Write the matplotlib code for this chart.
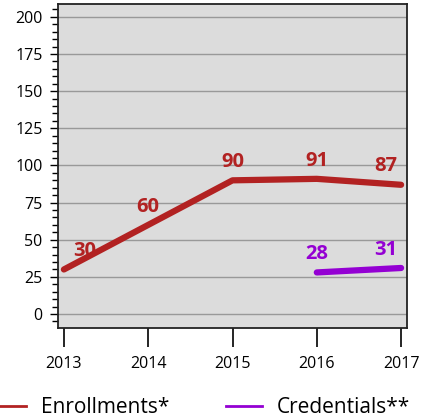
import matplotlib
matplotlib.use("Agg")
import matplotlib.pyplot as plt
from matplotlib.ticker import MultipleLocator
from matplotlib.lines import Line2D

years = [2013, 2014, 2015, 2016, 2017]
enroll_years = [2013, 2014, 2015, 2016, 2017]
enrollments = [30, 60, 90, 91, 87]
cred_years = [2016, 2017]
credentials = [28, 31]
series_names = ["Enrollments*", "Credentials**"]
yticks = [0, 25, 50, 75, 100, 125, 150, 175, 200]

RED = "#B22222"
PURPLE = "#9400D3"
FONT = ["Open Sans", "DejaVu Sans"]
plt.rcParams["font.family"] = FONT

fig = plt.figure(figsize=(4.28, 4.20), dpi=100)
ax = fig.add_axes([58/428, 1-328/420, (407-58)/428, (328-4)/420])
ax.set_facecolor("#DCDCDC")
ax.set_xlim(2012.93, 2017.07)
ax.set_ylim(-9.4, 208.7)

ax.set_yticks(yticks)
ax.yaxis.set_minor_locator(MultipleLocator(5))
ax.set_xticks(years)
ax.set_xticklabels([str(y) for y in years])
ax.grid(axis="y", which="major", color="#999999", linewidth=1.0)
ax.set_axisbelow(True)
ax.tick_params(axis="y", which="major", length=6, width=1, labelsize=11.5, pad=5, colors="black")
ax.tick_params(axis="y", which="minor", length=4, width=1)
ax.tick_params(axis="x", which="major", length=14, width=1.2, labelsize=11.5, pad=6)
for s in ax.spines.values():
    s.set_color("#222222")
    s.set_linewidth(1.3)

ax.plot(enroll_years, enrollments, color=RED, linewidth=4.5, solid_capstyle="round", solid_joinstyle="round", zorder=3)
ax.plot(cred_years, credentials, color=PURPLE, linewidth=4.5, solid_capstyle="round", solid_joinstyle="round", zorder=3)

def label(xs, vs, color):
    n = len(xs)
    for i, (x, v) in enumerate(zip(xs, vs)):
        if i == 0 and n > 2:
            ha, dx = "left", 7
        elif i == n - 1:
            ha, dx = "right", -3
        else:
            ha, dx = "center", 0
        ax.annotate(str(v), (x, v), xytext=(dx, 6), textcoords="offset points",
                    ha=ha, va="bottom", color=color, fontsize=14.5, fontweight="bold",
                    clip_on=False, zorder=4)

label(enroll_years, enrollments, RED)
label(cred_years, credentials, PURPLE)

handles = [Line2D([], [], color=RED, linewidth=2),
           Line2D([], [], color=PURPLE, linewidth=2)]
fig.legend(handles, series_names, loc="lower left", bbox_to_anchor=(-10/428, 0.005),
           ncol=2, frameon=False, fontsize=15, handlelength=1.75,
           columnspacing=2.7, handletextpad=0.7, borderpad=0, borderaxespad=0)

fig.savefig("out.png", dpi=100)
